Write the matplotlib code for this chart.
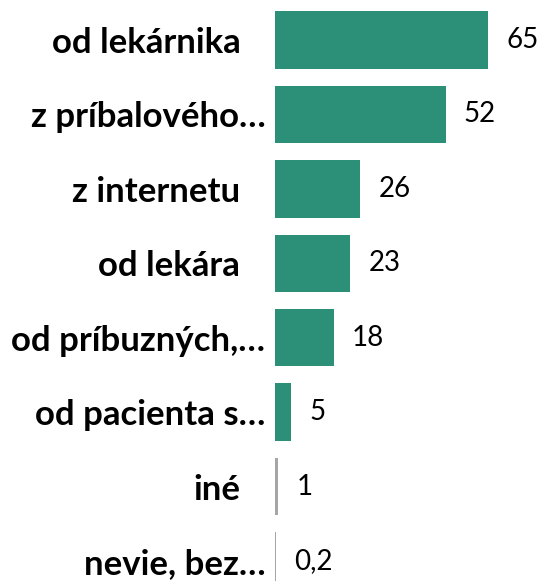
import matplotlib
matplotlib.use("Agg")
import matplotlib.pyplot as plt

categories = ["od lekárnika", "z príbalového…", "z internetu", "od lekára",
              "od príbuzných,…", "od pacienta s…", "iné", "nevie, bez…"]
values = [65, 52, 26, 23, 18, 5, 1, 0.2]
value_labels = ["65", "52", "26", "23", "18", "5", "1", "0,2"]
colors = ["#2B9077"] * 6 + ["#A6A6A6"] * 2

W, H = 541, 581
fig = plt.figure(figsize=(W / 100, H / 100), dpi=100)
left_px = 275
ax = fig.add_axes([left_px / W, 0, 1 - left_px / W, 1])

px_per_unit = 3.28
ax.set_xlim(0, (W - left_px) / px_per_unit)
row = 74.43
ax.set_ylim(7 + (H - 561) / row, -40 / row)

ypos = list(range(len(categories)))
ax.barh(ypos, values, height=0.77, color=colors)

for y, v, lab in zip(ypos, values, value_labels):
    ax.annotate(lab, xy=(v, y), xytext=(13, 0), textcoords="offset points",
                va="center", ha="left", fontsize=20, family="Lato", color="#000000")

ax.set_yticks(ypos)
ax.set_yticklabels(categories, fontsize=25, fontweight="bold", family="Lato")
ax.tick_params(axis="y", length=0)
for tick, lab in zip(ax.yaxis.get_major_ticks(), categories):
    tick.set_pad(7 if lab.endswith("…") else 25)
ax.set_xticks([])
for s in ax.spines.values():
    s.set_visible(False)
ax.patch.set_alpha(0)

fig.savefig("out.png", dpi=100)
